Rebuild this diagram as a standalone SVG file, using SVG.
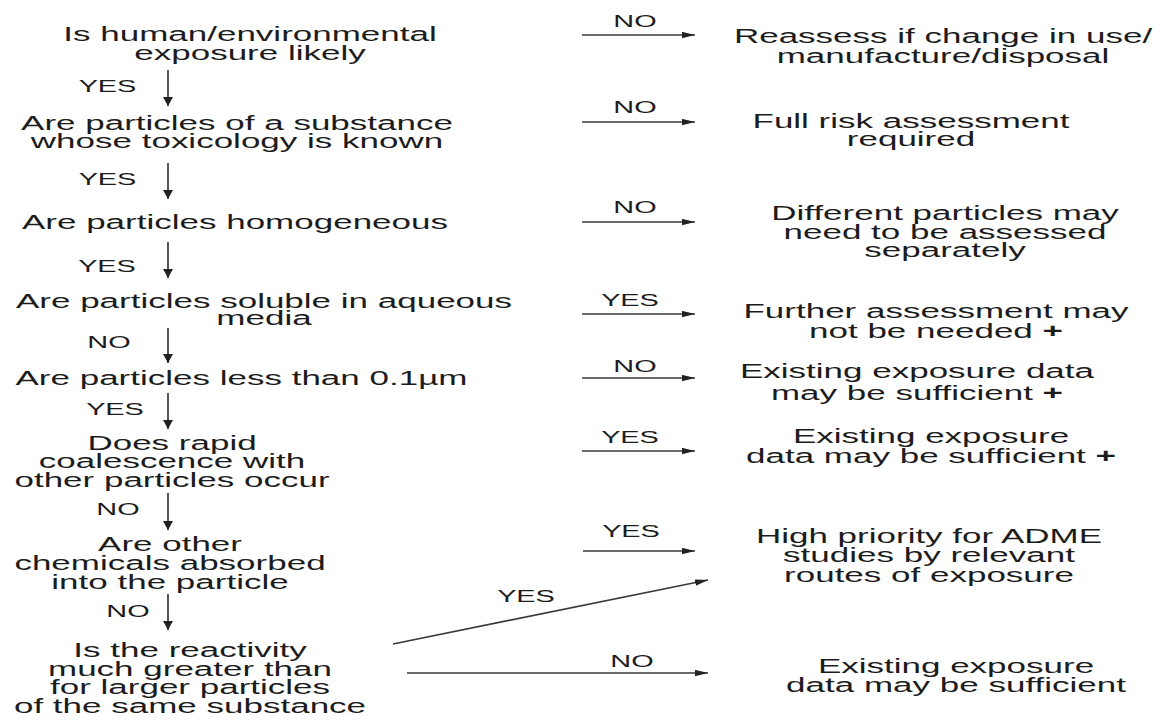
<svg xmlns="http://www.w3.org/2000/svg" width="1163" height="720" viewBox="0 0 1163 720">
<style>
text{font-family:"Liberation Sans",Arial,sans-serif;fill:#1c1c1c;text-anchor:middle}
.n text{font-size:20px}
.lbl{font-size:16.5px}
.c line{stroke:#3a3a3a;stroke-width:1.7;fill:none}
.h{marker-end:url(#ah)}
.v{marker-end:url(#av)}
.p{font-weight:bold}
</style>
<defs>
<marker id="ah" markerUnits="userSpaceOnUse" markerWidth="14" markerHeight="7" refX="13" refY="3.2" orient="auto"><path d="M0,0 L13,3.2 L0,6.4 z" fill="#222"/></marker>
<marker id="av" markerUnits="userSpaceOnUse" markerWidth="10" markerHeight="11" refX="9" refY="5" orient="auto"><path d="M0,0 L9,5 L0,10 z" fill="#222"/></marker>
</defs>
<rect width="1163" height="720" fill="#fff"/>
<g id="connectors" class="c">
<line class="v" x1="168" y1="70" x2="168" y2="106"/>
<line class="v" x1="168" y1="163" x2="168" y2="199"/>
<line class="v" x1="168" y1="242" x2="168" y2="278"/>
<line class="v" x1="168" y1="328" x2="168" y2="363"/>
<line class="v" x1="168" y1="393" x2="168" y2="429"/>
<line class="v" x1="168" y1="493" x2="168" y2="530"/>
<line class="v" x1="168" y1="594" x2="168" y2="630"/>
<line class="h" x1="582" y1="35" x2="695" y2="35"/>
<line class="h" x1="582" y1="122" x2="695" y2="122"/>
<line class="h" x1="582" y1="222" x2="695" y2="222"/>
<line class="h" x1="582" y1="314" x2="695" y2="314"/>
<line class="h" x1="582" y1="378" x2="695" y2="378"/>
<line class="h" x1="582" y1="451" x2="695" y2="451"/>
<line class="h" x1="583" y1="551" x2="695" y2="551"/>
<line class="h" x1="393" y1="644" x2="708" y2="580"/>
<line class="h" x1="407" y1="673" x2="708" y2="673"/>
<text class="lbl" transform="translate(107.5,92) scale(1.75,1)">YES</text>
<text class="lbl" transform="translate(107.5,185) scale(1.75,1)">YES</text>
<text class="lbl" transform="translate(107,272) scale(1.75,1)">YES</text>
<text class="lbl" transform="translate(109,348) scale(1.75,1)">NO</text>
<text class="lbl" transform="translate(115,415) scale(1.75,1)">YES</text>
<text class="lbl" transform="translate(118,515) scale(1.75,1)">NO</text>
<text class="lbl" transform="translate(128,617) scale(1.75,1)">NO</text>
<text class="lbl" transform="translate(635,27) scale(1.75,1)">NO</text>
<text class="lbl" transform="translate(635,113) scale(1.75,1)">NO</text>
<text class="lbl" transform="translate(635,213) scale(1.75,1)">NO</text>
<text class="lbl" transform="translate(630,306) scale(1.75,1)">YES</text>
<text class="lbl" transform="translate(635,372) scale(1.75,1)">NO</text>
<text class="lbl" transform="translate(630,443) scale(1.75,1)">YES</text>
<text class="lbl" transform="translate(631,537) scale(1.75,1)">YES</text>
<text class="lbl" transform="translate(526,602) scale(1.75,1)">YES</text>
<text class="lbl" transform="translate(632,667) scale(1.75,1)">NO</text>
</g>
<g id="q1" class="n" transform="translate(250,0) scale(1.75,1)"><text><tspan x="0" y="41">Is human/environmental</tspan><tspan x="0" y="60">exposure likely</tspan></text></g>
<g id="q2" class="n" transform="translate(237,0) scale(1.75,1)"><text><tspan x="0" y="130">Are particles of a substance</tspan><tspan x="0" y="148">whose toxicology is known</tspan></text></g>
<g id="q3" class="n" transform="translate(235,0) scale(1.75,1)"><text><tspan x="0" y="229">Are particles homogeneous</tspan></text></g>
<g id="q4" class="n" transform="translate(264,0) scale(1.75,1)"><text><tspan x="0" y="308">Are particles soluble in aqueous</tspan><tspan x="0" y="325">media</tspan></text></g>
<g id="q5" class="n" transform="translate(241.5,0) scale(1.75,1)"><text><tspan x="0" y="385">Are particles less than 0.1µm</tspan></text></g>
<g id="q6" class="n" transform="translate(172,0) scale(1.75,1)"><text><tspan x="0" y="450">Does rapid</tspan><tspan x="0" y="468">coalescence with</tspan><tspan x="0" y="487">other particles occur</tspan></text></g>
<g id="q7" class="n" transform="translate(170,0) scale(1.75,1)"><text><tspan x="0" y="551">Are other</tspan><tspan x="0" y="570">chemicals absorbed</tspan><tspan x="0" y="589">into the particle</tspan></text></g>
<g id="q8" class="n" transform="translate(190,0) scale(1.75,1)"><text><tspan x="0" y="657">Is the reactivity</tspan><tspan x="0" y="676">much greater than</tspan><tspan x="0" y="694">for larger particles</tspan><tspan x="0" y="713">of the same substance</tspan></text></g>
<g id="r1" class="n" transform="translate(943,0) scale(1.75,1)"><text><tspan x="0" y="43">Reassess if change in use/</tspan><tspan x="0" y="63">manufacture/disposal</tspan></text></g>
<g id="r2" class="n" transform="translate(911,0) scale(1.75,1)"><text><tspan x="0" y="128">Full risk assessment</tspan><tspan x="0" y="146">required</tspan></text></g>
<g id="r3" class="n" transform="translate(945,0) scale(1.75,1)"><text><tspan x="0" y="220">Different particles may</tspan><tspan x="0" y="239">need to be assessed</tspan><tspan x="0" y="257">separately</tspan></text></g>
<g id="r4" class="n" transform="translate(936,0) scale(1.75,1)"><text><tspan x="0" y="318">Further assessment may</tspan><tspan x="0" y="338">not be needed <tspan class="p">+</tspan></tspan></text></g>
<g id="r5" class="n" transform="translate(917,0) scale(1.75,1)"><text><tspan x="0" y="378">Existing exposure data</tspan><tspan x="0" y="400">may be sufficient <tspan class="p">+</tspan></tspan></text></g>
<g id="r6" class="n" transform="translate(931,0) scale(1.75,1)"><text><tspan x="0" y="443">Existing exposure</tspan><tspan x="0" y="463">data may be sufficient <tspan class="p">+</tspan></tspan></text></g>
<g id="r7" class="n" transform="translate(929,0) scale(1.75,1)"><text><tspan x="0" y="543">High priority for ADME</tspan><tspan x="0" y="562">studies by relevant</tspan><tspan x="0" y="582">routes of exposure</tspan></text></g>
<g id="r8" class="n" transform="translate(956,0) scale(1.75,1)"><text><tspan x="0" y="673">Existing exposure</tspan><tspan x="0" y="692">data may be sufficient</tspan></text></g>
</svg>
